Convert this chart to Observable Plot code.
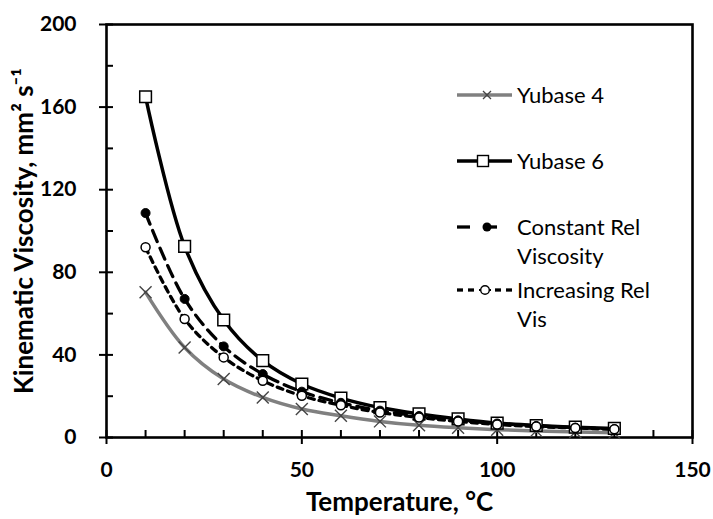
<!DOCTYPE html>
<html>
<head>
<meta charset="utf-8">
<script src="https://cdn.jsdelivr.net/npm/d3@7"></script>
<script src="https://cdn.jsdelivr.net/npm/@observablehq/plot@0.6"></script>
<style>
  html, body { margin: 0; padding: 0; background: #fff; }
  #wrap { position: relative; width: 713px; height: 519px; font-family: Lato, "Open Sans", sans-serif; }
  #legend { position: absolute; left: 457px; top: 0; font-size: 22px; color: #000; }
  .row { position: absolute; left: 0; display: flex; align-items: flex-start; white-space: nowrap; }
  .row svg { flex: none; }
  .row span { margin-left: 4px; line-height: 29px; }
</style>
</head>
<body>
<div id="wrap"><div id="legend"></div></div>
<script>
// ---- data ----
const temps = [10, 20, 30, 40, 50, 60, 70, 80, 90, 100, 110, 120, 130];
const yubase4 = [70.3, 43.6, 28.3, 19.4, 13.8, 10.5, 7.8, 5.9, 4.7, 3.8, 3.2, 2.7, 2.3];
const yubase6 = [165.0, 92.6, 56.9, 37.2, 25.9, 19.1, 14.5, 11.4, 9.0, 7.0, 5.8, 5.0, 4.4];
const constRel = [108.7, 67.1, 44.1, 30.7, 22.2, 16.8, 13.0, 10.4, 8.3, 6.8, 5.6, 4.8, 4.1];
const incRel = [92.1, 57.4, 38.8, 27.5, 20.2, 15.6, 12.1, 9.7, 7.8, 6.3, 5.3, 4.6, 4.0];
const seriesNames = ["Yubase 4", "Yubase 6", "Constant Rel Viscosity", "Increasing Rel Vis"];
const xTicks = [0, 50, 100, 150];
const yTicks = [0, 40, 80, 120, 160, 200];
const xMinor = d3.range(0, 151, 10);
const yMinor = d3.range(0, 201, 20);
const xTitle = "Temperature, °C";
const yTitle = "Kinematic Viscosity, mm² s⁻¹";

const W = 713, H = 519;
const mL = 106, mR = 21, mT = 24, mB = 82;
const plotW = W - mL - mR, plotH = H - mT - mB;

const rows = (vals) => temps.map((t, i) => ({t, v: vals[i]}));
const d4 = rows(yubase4), d6 = rows(yubase6), dc = rows(constRel), di = rows(incRel);

const chart = Plot.plot({
  width: W, height: H,
  marginLeft: mL, marginRight: mR, marginTop: mT, marginBottom: mB,
  x: {domain: [0, 150]},
  y: {domain: [0, 200]},
  style: {fontFamily: "Lato, 'Open Sans', sans-serif", fontSize: "20px", color: "black", background: "white"},
  marks: [
    Plot.ruleX(xMinor, {insetTop: plotH - 7, stroke: "black", strokeWidth: 2}),
    Plot.ruleY(yMinor, {insetRight: plotW - 7, stroke: "black", strokeWidth: 2}),
    Plot.axisX({ticks: xTicks, tickSize: 7, tickPadding: 18, label: null, fontSize: 21, fontWeight: "bold", strokeWidth: 2}),
    Plot.axisY({ticks: yTicks, tickSize: 7, tickPadding: 23, label: null, fontSize: 21, fontWeight: "bold", strokeWidth: 2}),
    Plot.frame({stroke: "black", strokeWidth: 2.6}),
    // Yubase 4
    Plot.line(d4, {x: "t", y: "v", curve: "catmull-rom", stroke: "#808080", strokeWidth: 3.5}),
    Plot.dot(d4, {x: "t", y: "v", symbol: "times", r: 5.5, stroke: "#444", strokeWidth: 1.4}),
    // Yubase 6
    Plot.line(d6, {x: "t", y: "v", curve: "catmull-rom", stroke: "black", strokeWidth: 3.5}),
    Plot.dot(d6, {x: "t", y: "v", symbol: "square", r: 6.6, fill: "white", stroke: "black", strokeWidth: 1.5}),
    // Constant Rel Viscosity
    Plot.line(dc, {x: "t", y: "v", curve: "catmull-rom", stroke: "black", strokeWidth: 3.3, strokeDasharray: "12,7"}),
    Plot.dot(dc, {x: "t", y: "v", symbol: "circle", r: 4.5, fill: "black", stroke: "black", strokeWidth: 1}),
    // Increasing Rel Vis
    Plot.line(di, {x: "t", y: "v", curve: "catmull-rom", stroke: "black", strokeWidth: 3.3, strokeDasharray: "6,5"}),
    Plot.dot(di, {x: "t", y: "v", symbol: "circle", r: 4.5, fill: "white", stroke: "black", strokeWidth: 1.5}),
    // axis titles
    Plot.text([xTitle], {text: d => d, frameAnchor: "bottom", dy: 65, lineAnchor: "middle", textAnchor: "middle", fontSize: 26, fontWeight: "bold"}),
    Plot.text([yTitle], {text: d => d, frameAnchor: "left", dx: -82, rotate: -90, lineAnchor: "middle", textAnchor: "middle", fontSize: 26, fontWeight: "bold"})
  ]
});
document.getElementById("wrap").prepend(chart);
chart.style.position = "absolute";
chart.style.left = "0"; chart.style.top = "0";

// ---- legend (HTML overlay) ----
const sw = {
  "Yubase 4": `<svg width="56" height="20"><line x1="0" y1="10" x2="55" y2="10" stroke="#808080" stroke-width="3.5"/><path d="M26,6L34,14M34,6L26,14" stroke="#444" stroke-width="1.3" fill="none"/></svg>`,
  "Yubase 6": `<svg width="56" height="20"><line x1="0" y1="10" x2="55" y2="10" stroke="black" stroke-width="3.5"/><rect x="20.5" y="4.5" width="11" height="11" fill="white" stroke="black" stroke-width="1.4"/></svg>`,
  "Constant Rel Viscosity": `<svg width="56" height="20"><line x1="0" y1="10" x2="13" y2="10" stroke="black" stroke-width="3.3"/><line x1="27" y1="10" x2="40" y2="10" stroke="black" stroke-width="3.3"/><circle cx="30" cy="10" r="4.5" fill="black"/></svg>`,
  "Increasing Rel Vis": `<svg width="56" height="20"><line x1="0" y1="10" x2="6" y2="10" stroke="black" stroke-width="3.3"/><line x1="11" y1="10" x2="17" y2="10" stroke="black" stroke-width="3.3"/><line x1="38" y1="10" x2="44" y2="10" stroke="black" stroke-width="3.3"/><line x1="49" y1="10" x2="55" y2="10" stroke="black" stroke-width="3.3"/><line x1="22" y1="10" x2="34" y2="10" stroke="black" stroke-width="2"/><circle cx="28" cy="10" r="4.3" fill="white" stroke="black" stroke-width="1.4"/></svg>`
};
const legendRows = [
  {name: seriesNames[0], lines: ["Yubase 4"], top: 80},
  {name: seriesNames[1], lines: ["Yubase 6"], top: 146},
  {name: seriesNames[2], lines: ["Constant Rel", "Viscosity"], top: 212},
  {name: seriesNames[3], lines: ["Increasing Rel", "Vis"], top: 275}
];
const leg = document.getElementById("legend");
legendRows.forEach(r => {
  const div = document.createElement("div");
  div.className = "row";
  div.style.top = r.top + "px";
  div.innerHTML = `<div style="height:29px;display:flex;align-items:center">${sw[r.name]}</div><span>${r.lines.join("<br>")}</span>`;
  leg.appendChild(div);
});
</script>
</body>
</html>
